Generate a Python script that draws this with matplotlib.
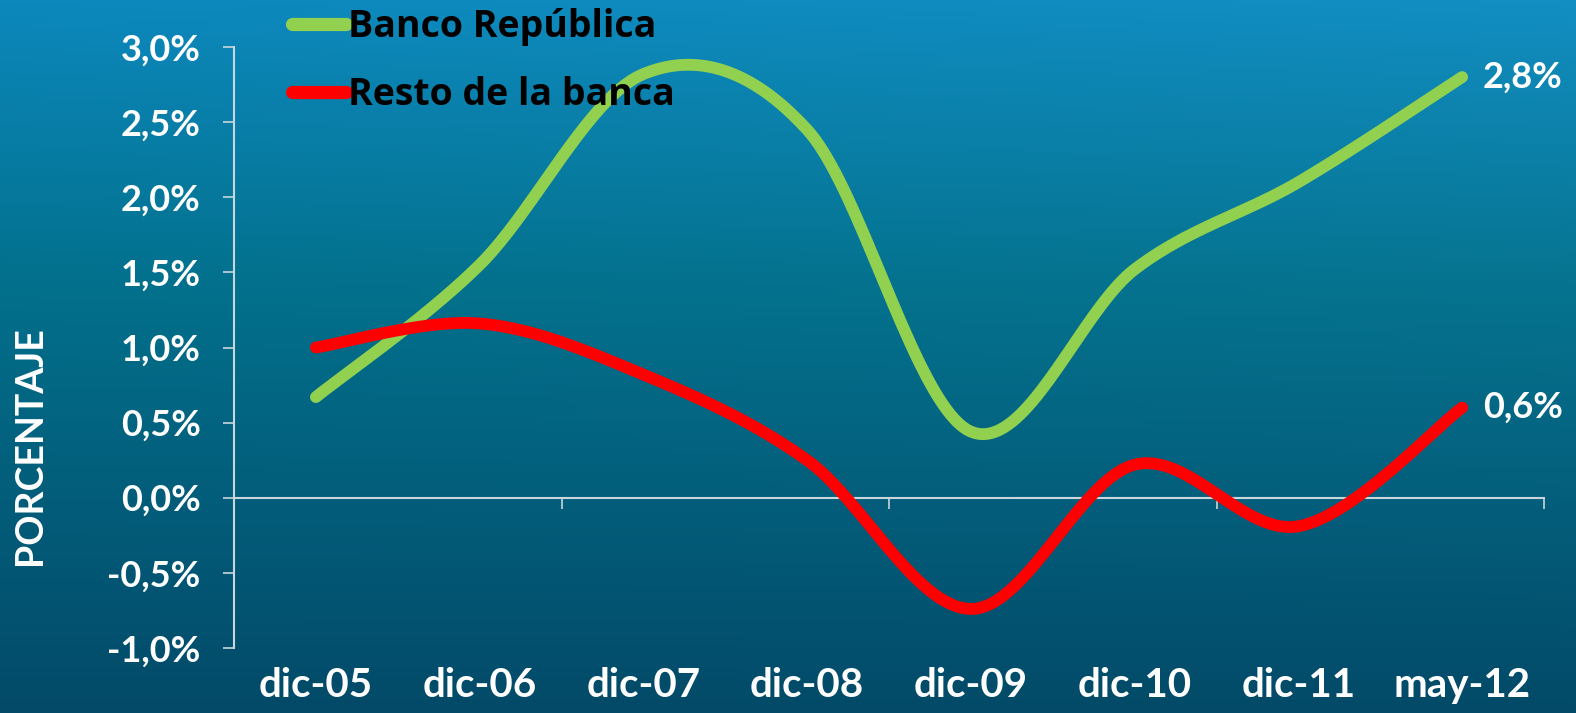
import numpy as np
import matplotlib
matplotlib.use("Agg")
import matplotlib.pyplot as plt
from matplotlib.ticker import FixedLocator, FuncFormatter

categories = ["dic-05", "dic-06", "dic-07", "dic-08", "dic-09", "dic-10", "dic-11", "may-12"]
banco_republica = [0.67, 1.55, 2.82, 2.45, 0.44, 1.52, 2.10, 2.80]
resto_banca = [1.00, 1.16, 0.82, 0.25, -0.74, 0.22, -0.19, 0.60]
end_labels = ["2,8%", "0,6%"]
series_names = ["Banco República", "Resto de la banca"]

GREEN = "#92D050"
RED = "#FF0000"
AXIS = "#c9d6dc"


def smooth(xs, ys, n=40):
    """Catmull-Rom curve through the points, like Excel's smoothed line."""
    p = np.column_stack([xs, ys]).astype(float)
    p = np.vstack([p[0], p, p[-1]])
    out = []
    for i in range(1, len(p) - 2):
        p0, p1, p2, p3 = p[i - 1], p[i], p[i + 1], p[i + 2]
        t = np.linspace(0, 1, n, endpoint=(i == len(p) - 3))[:, None]
        seg = 0.5 * ((2 * p1) + (-p0 + p2) * t
                     + (2 * p0 - 5 * p1 + 4 * p2 - p3) * t ** 2
                     + (-p0 + 3 * p1 - 3 * p2 + p3) * t ** 3)
        out.append(seg)
    out = np.vstack(out)
    return out[:, 0], out[:, 1]


W, H = 1576, 713
fig = plt.figure(figsize=(W / 100, H / 100), dpi=100)

# background gradient
bg = fig.add_axes([0, 0, 1, 1], zorder=-10)
yy, xx = np.mgrid[0:1:200j, 0:1:300j]
top = np.array([12, 136, 188]) / 255
mid = np.array([2, 112, 140]) / 255
bot = np.array([2, 74, 104]) / 255
f = yy[..., None]
img = np.where(f < 0.4, top + (mid - top) * (f / 0.4), mid + (bot - mid) * ((f - 0.4) / 0.6))
img = img + 0.025 * (xx[..., None] * (1 - yy[..., None]))
bg.imshow(np.clip(img, 0, 1), aspect="auto", extent=[0, 1, 0, 1], origin="upper")
bg.set_axis_off()

ax = fig.add_axes([234 / W, 1 - 648 / H, (1544 - 234) / W, (648 - 47) / H])
ax.set_facecolor("none")
ax.set_xlim(0, len(categories))
ax.set_ylim(-1, 3)

x = np.arange(len(categories)) + 0.5
for vals, col, name in [(banco_republica, GREEN, series_names[0]), (resto_banca, RED, series_names[1])]:
    sx, sy = smooth(x, vals)
    ax.plot(sx, sy, color=col, lw=8.5, solid_capstyle="round", label=name, zorder=3)

for vals, lab in zip([banco_republica, resto_banca], end_labels):
    ax.annotate(lab, (x[-1], vals[-1]), xytext=(15, 0), textcoords="offset points",
                ha="left", va="center", color="white", fontsize=26,
                fontweight="bold", family="Lato", annotation_clip=False)

# spines / axes
for s in ["top", "right"]:
    ax.spines[s].set_visible(False)
ax.spines["left"].set_color(AXIS)
ax.spines["left"].set_linewidth(1.5)
ax.spines["bottom"].set_position(("data", 0))
ax.spines["bottom"].set_color(AXIS)
ax.spines["bottom"].set_linewidth(1.5)

ax.xaxis.set_major_locator(FixedLocator([0, 2, 4, 6, 8]))
ax.tick_params(axis="x", direction="out", length=8, width=1.2, color=AXIS, labelbottom=False)

ax.yaxis.set_major_locator(FixedLocator(np.arange(-1, 3.01, 0.5)))
ax.yaxis.set_major_formatter(FuncFormatter(lambda v, _: f"{v:.1f}%".replace(".", ",")))
ax.tick_params(axis="y", direction="out", length=8, width=1.2, color=AXIS, pad=16,
               labelsize=26, labelcolor="white")
for t in ax.get_yticklabels():
    t.set_family("Lato")
    t.set_fontweight("bold")

sec = ax.secondary_xaxis(0.0)
sec.set_xticks(x)
sec.set_xticklabels(categories)
sec.spines["bottom"].set_visible(False)
sec.tick_params(axis="x", length=0, pad=14, labelsize=29, labelcolor="white")
for t in sec.get_xticklabels():
    t.set_family("Lato")
    t.set_fontweight("bold")

fig.text(30 / W, 1 - 446 / H, "PORCENTAJE", rotation=90, ha="center", va="center",
         color="white", fontsize=27, fontweight="bold", family="Lato")

leg = ax.legend(loc="upper left", bbox_to_anchor=(292 / W, 1 - 8 / H),
                bbox_transform=fig.transFigure, frameon=False, borderpad=0,
                borderaxespad=0, handlelength=1.45, handletextpad=0.05, labelspacing=0.8,
                prop={"family": "Open Sans", "weight": "bold", "size": 27})
for t in leg.get_texts():
    t.set_color("black")
for h in leg.get_lines():
    h.set_linewidth(9.5)

fig.savefig("out.png", dpi=100)
